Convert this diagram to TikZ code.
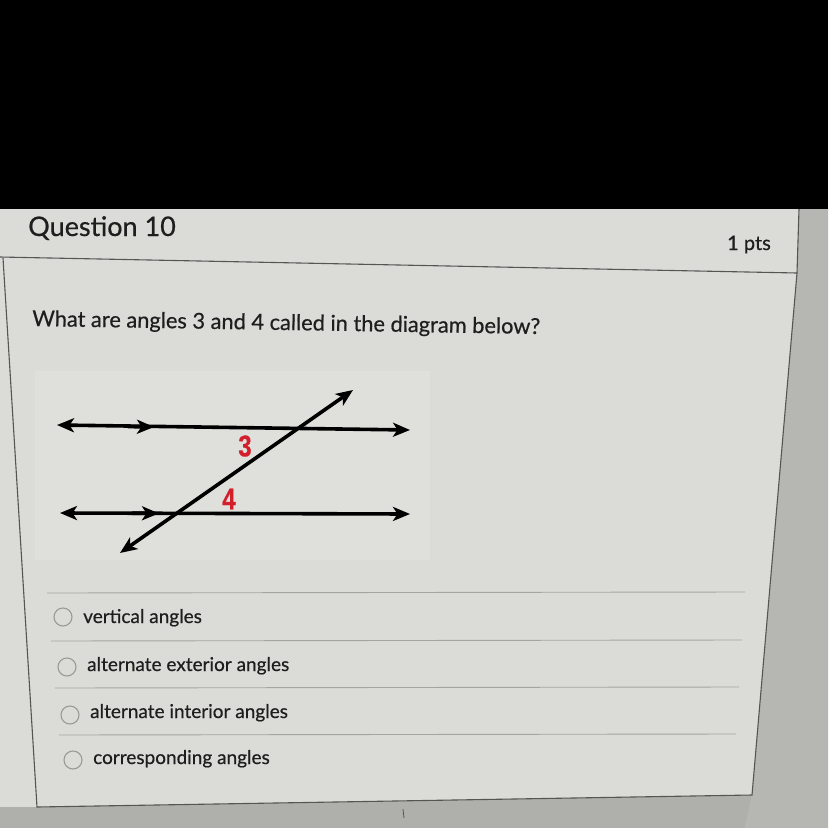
\documentclass[tikz,border=0pt]{standalone}
\usepackage{fontspec}
\setmainfont{Lato}[FakeBold=0.5]
\newfontfamily\labfont{Liberation Sans}[FakeBold=0.6]
\usetikzlibrary{arrows.meta}
\definecolor{panel}{HTML}{D2D2CE}
\definecolor{panelL}{HTML}{DBDBD7}
\definecolor{strip}{HTML}{B6B6B2}
\definecolor{border}{HTML}{555553}
\definecolor{sep}{HTML}{A4A4A0}
\definecolor{txt}{HTML}{1E1E1E}
\definecolor{redlab}{HTML}{D21F2B}
\definecolor{radio}{HTML}{9A9A98}
\tikzset{
  geoline/.style={line width=3.6pt, black},
  tip/.style={-{Stealth[length=17pt,width=14pt,inset=4.5pt]}},
  bothtip/.style={{Stealth[length=17pt,width=14pt,inset=4.5pt]}-{Stealth[length=17pt,width=14pt,inset=4.5pt]}},
  boxline/.style={border, line width=1.1pt},
  sepline/.style={sep, line width=0.9pt},
  opt/.style={anchor=base west, inner sep=0pt, text=txt, font=\fontsize{19}{22}\selectfont},
  radiobtn/.style={circle, draw=radio, line width=1.1pt, minimum size=18pt, inner sep=0pt},
  anglab/.style={inner sep=0pt, text=redlab, font=\labfont\bfseries\fontsize{30}{30}\selectfont, xscale=0.8}
}
\begin{document}
\begin{tikzpicture}[x=1pt,y=-1pt]
\useasboundingbox (0,0) rectangle (828,828);
% backgrounds
\fill[panel] (0,0) rectangle (828,828);
\fill[panelL] (0,209) -- (799,209) -- (797,273) -- (752,795) -- (37,807) -- (0,807) -- cycle;
\fill[strip] (799,209) -- (828,209) -- (828,828) -- (745,828) -- (752,795) -- (797,273) -- cycle;
\fill[black!4!strip] (0,807) -- (37,807) -- (752,795) -- (745,828) -- (0,828) -- cycle;
\fill[black] (0,0) rectangle (828,209);
% picture area of the diagram
\fill[white!12!panelL] (35,371) rectangle (430,560);
% header
\node[anchor=base west, inner sep=0pt, text=txt, font=\fontsize{27}{30}\selectfont] (q) at (28,236) {Question 10};
\node[anchor=base east, inner sep=0pt, text=txt, font=\fontsize{20}{24}\selectfont] (pts) at (771,250) {1 pts};
\draw[boxline] (0,257) -- (797,273);
\draw[boxline] (799,209) -- (797,273);
% body box
\draw[boxline] (3,258) -- (37,807) -- (752,795) -- (797,273);
% question
\node[anchor=base west, inner sep=0pt, text=txt, font=\fontsize{21.8}{24}\selectfont, rotate=-0.9] (ques) at (32,326) {What are angles 3 and 4 called in the diagram below?};
% diagram
\coordinate (tl) at (57,425);
\coordinate (tr) at (410,430);
\coordinate (tm1) at (128,426.6);
\coordinate (tm2) at (154,427);
\coordinate (bl) at (60,513);
\coordinate (br) at (410,514);
\coordinate (bm1) at (132,513.2);
\coordinate (bm2) at (159,513.4);
\coordinate (ts) at (120,553);
\coordinate (te) at (353,390);
\draw[geoline, bothtip] (tl) -- (tr);
\draw[geoline, tip] (tm1) -- (tm2);
\draw[geoline, bothtip] (bl) -- (br);
\draw[geoline, tip] (bm1) -- (bm2);
\draw[geoline, bothtip] (ts) -- (te);
\node[anglab] (a3) at (245,446) {3};
\node[anglab] (a4) at (229,499) {4};
% options
\draw[sepline] (47,593) -- (745,592);
\draw[sepline] (51,641) -- (742,640);
\draw[sepline] (55,688) -- (739,687);
\draw[sepline] (59,735) -- (736,734);
\node[radiobtn] (r1) at (63,617) {};
\node[opt] (o1) at (83,623) {vertical angles};
\node[radiobtn] (r2) at (67,667) {};
\node[opt] (o2) at (87,671) {alternate exterior angles};
\node[radiobtn] (r3) at (70,715) {};
\node[opt] (o3) at (90,718) {alternate interior angles};
\node[radiobtn] (r4) at (73,760) {};
\node[opt] (o4) at (93,764) {corresponding angles};
\draw[border, line width=0.8pt] (403,809) -- (404,818);
\end{tikzpicture}
\end{document}
